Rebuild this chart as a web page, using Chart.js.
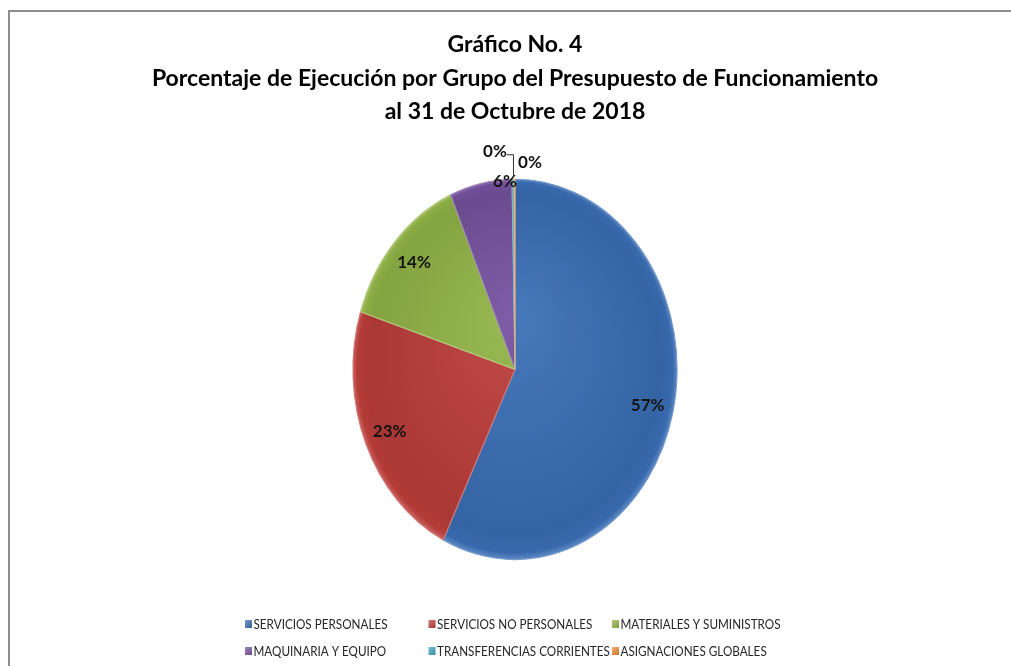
<!DOCTYPE html>
<html>
<head>
<meta charset="utf-8">
<script src="https://cdn.jsdelivr.net/npm/chart.js@4.4.1/dist/chart.umd.min.js"></script>
<style>
  html, body { margin: 0; padding: 0; background: #fff; overflow: hidden; }
  #frame { position: absolute; left: 8px; top: 10px; width: 1100px; height: 700px;
           border-left: 2px solid #8e8e8e; border-top: 2px solid #8e8e8e; }
  #chart { position: absolute; left: 0; top: 0; }
</style>
</head>
<body>
<div id="frame"></div>
<canvas id="chart" width="1030" height="666"></canvas>
<script>
  "use strict";

  const titleLines = [
    'Gráfico No. 4',
    'Porcentaje de Ejecución por Grupo del Presupuesto de Funcionamiento',
    'al 31 de Octubre de 2018'
  ];
  const categories = [
    'SERVICIOS PERSONALES',
    'SERVICIOS NO PERSONALES',
    'MATERIALES Y SUMINISTROS',
    'MAQUINARIA Y EQUIPO',
    'TRANSFERENCIAS CORRIENTES',
    'ASIGNACIONES GLOBALES'
  ];
  const shares = [57.3, 22.6, 13.6, 6.2, 0.2, 0.1];
  const shareLabels = ['57%', '23%', '14%', '6%', '0%', '0%'];
  const colors = ['#3b6fb6', '#bd3e3b', '#93b548', '#7753a0', '#3ea6c2', '#f08b33'];

  const FONT = 'Lato, "Open Sans", sans-serif';
  const STRETCH = 190 / 162;   // pie is drawn taller than wide

  function shade(hex, amt) {
    const n = parseInt(hex.slice(1), 16);
    let r = n >> 16, g = (n >> 8) & 255, b = n & 255;
    const f = c => Math.round(amt >= 0 ? c + (255 - c) * amt : c * (1 + amt));
    return `rgb(${f(r)},${f(g)},${f(b)})`;
  }

  function centerOf(chart) {
    const a = chart.chartArea;
    return { x: (a.left + a.right) / 2, y: (a.top + a.bottom) / 2, r: Math.min(a.width, a.height) / 2 };
  }

  function sliceFill(c) {
    const base = colors[c.dataIndex];
    if (!c.chart.chartArea) return base;
    const { x, y, r } = centerOf(c.chart);
    const g = c.chart.ctx.createRadialGradient(x, y - r * 0.3, 0, x, y, r);
    g.addColorStop(0, shade(base, 0.06));
    g.addColorStop(0.9, shade(base, -0.1));
    g.addColorStop(0.97, shade(base, -0.05));
    g.addColorStop(1, shade(base, 0.2));
    return g;
  }

  // squash the arcs into an ellipse around the pie centre
  const ellipsePlugin = {
    id: 'ellipse',
    beforeDatasetsDraw(chart) {
      const { x, y } = centerOf(chart);
      const ctx = chart.ctx;
      ctx.save();
      ctx.translate(x, y);
      ctx.scale(1, STRETCH);
      ctx.translate(-x, -y);
    },
    afterDatasetsDraw(chart) {
      chart.ctx.restore();
    }
  };

  // percent labels, small slices get placed by the top edge
  const labelPlugin = {
    id: 'sliceLabels',
    afterDraw(chart) {
      const ctx = chart.ctx;
      const { x: cx, y: cy } = centerOf(chart);
      const arcs = chart.getDatasetMeta(0).data;
      const nudges = [null, null, null, { dx: -7, dy: 2 }, { dx: -19, dy: -28, leader: true }, { dx: 15, dy: -17 }];
      ctx.save();
      ctx.font = `bold 17px ${FONT}`;
      ctx.fillStyle = '#141414';
      ctx.textAlign = 'center';
      ctx.textBaseline = 'middle';
      arcs.forEach((arc, i) => {
        const r = arc.outerRadius;
        let px, py;
        if (!nudges[i]) {
          const mid = (arc.startAngle + arc.endAngle) / 2;
          px = cx + Math.cos(mid) * r * 0.84;
          py = cy + Math.sin(mid) * r * 0.84 * STRETCH;
        } else {
          const ex = cx + Math.cos(arc.endAngle) * r;
          const ey = cy + Math.sin(arc.endAngle) * r * STRETCH;
          px = ex + nudges[i].dx;
          py = ey + nudges[i].dy;
          if (nudges[i].leader) {
            ctx.strokeStyle = '#333';
            ctx.lineWidth = 1;
            ctx.beginPath();
            ctx.moveTo(px + 12, py + 3.5);
            ctx.lineTo(ex - 0.5, py + 3.5);
            ctx.lineTo(ex - 0.5, ey - 2);
            ctx.stroke();
          }
        }
        ctx.fillText(shareLabels[i], px, py);
      });
      ctx.restore();
    }
  };

  // legend laid out in three fixed columns like the spreadsheet one
  const legendPlugin = {
    id: 'gridLegend',
    afterDraw(chart) {
      const ctx = chart.ctx;
      const startX = 245, colW = 183.5, rowY = [624, 651];
      const squeeze = 0.9;
      ctx.save();
      ctx.font = `13px ${FONT}`;
      ctx.textBaseline = 'middle';
      ctx.textAlign = 'left';
      categories.forEach((name, i) => {
        const x = startX + (i % 3) * colW;
        const y = rowY[Math.floor(i / 3)];
        const g = ctx.createLinearGradient(x, y - 4, x + 7, y + 4);
        g.addColorStop(0, shade(colors[i], 0.3));
        g.addColorStop(1, shade(colors[i], -0.15));
        ctx.fillStyle = g;
        ctx.fillRect(x, y - 4, 7, 8);
        ctx.fillStyle = '#262626';
        ctx.save();
        ctx.translate(x + 8.5, y + 0.5);
        ctx.scale(squeeze, 1);
        ctx.fillText(name, 0, 0);
        ctx.restore();
      });
      ctx.restore();
    }
  };

  new Chart(document.getElementById('chart'), {
    type: 'pie',
    data: {
      labels: categories,
      datasets: [{
        data: shares,
        backgroundColor: sliceFill,
        borderColor: colors.map(c => shade(c, 0.3)),
        borderWidth: 1,
        clip: false
      }]
    },
    options: {
      responsive: false,
      devicePixelRatio: 1,
      animation: false,
      layout: { padding: { top: 0, bottom: 134, left: 0, right: 0 } },
      plugins: {
        legend: { display: false },
        tooltip: { enabled: false },
        title: {
          display: true,
          text: titleLines,
          color: '#000',
          font: { family: FONT, size: 23, weight: 'bold', lineHeight: 1.46 },
          padding: { top: 28, bottom: 78 }
        }
      }
    },
    plugins: [ellipsePlugin, labelPlugin, legendPlugin]
  });
</script>
</body>
</html>
